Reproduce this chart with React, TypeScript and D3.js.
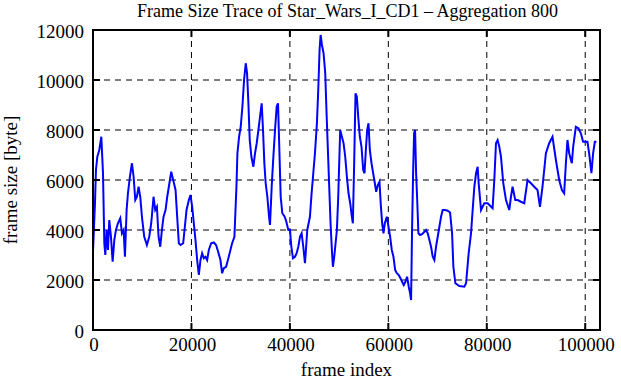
import React from "react";
import * as d3 from "d3";

const frames: number[] = [
  0, 400, 600, 880, 1280, 1690, 2030, 2300, 2500, 2770, 3040, 3310, 3650, 3990, 4330, 4660, 5070, 5540, 5880, 6220,
  6490, 6830, 7100, 7500, 7910, 8250, 8590, 8920, 9260, 9600, 9940, 10410, 10950, 11420, 11830, 12300, 12640, 12980, 13320, 13660,
  14000, 14330, 14740, 15080, 15410, 15890, 16290, 16770, 17100, 17440, 17780, 18320, 18660, 19000, 19470, 19810, 20150, 20480, 20820, 21160,
  21500, 21840, 22170, 22510, 22850, 23190, 23530, 24000, 24540, 25010, 25420, 25890, 26230, 26570, 27040, 27580, 28260, 28730, 28950, 29140,
  29340, 29680, 30010, 30350, 30690, 31030, 31300, 31570, 31840, 32180, 32580, 32920, 33260, 33600, 33930, 34270, 34540, 34810, 35080, 35420,
  35760, 35960, 36300, 36640, 36980, 37310, 37590, 37860, 38130, 38460, 38940, 39280, 39680, 40020, 40290, 40630, 41030, 41370, 41710, 42050,
  42380, 42720, 43060, 43260, 43530, 44070, 44410, 44750, 45090, 45490, 45760, 46030, 46240, 46510, 46840, 47180, 47450, 47720, 47990, 48260,
  48530, 48740, 49010, 49280, 49550, 49820, 50020, 50220, 50560, 50900, 51240, 51580, 51910, 52250, 52590, 52790, 53060, 53330, 53600, 53880,
  54210, 54550, 54890, 55160, 55430, 55700, 55970, 56240, 56580, 56920, 57260, 57530, 57860, 58200, 58470, 58740, 59010, 59280, 59690, 60030,
  60360, 60700, 61040, 61380, 61720, 62120, 62460, 62800, 63130, 63470, 63810, 64150, 64420, 64620, 64820, 65030, 65230, 65430, 65640, 65840,
  66110, 66450, 66850, 67330, 67660, 68000, 68340, 68680, 69020, 69350, 69690, 70030, 70370, 70710, 71040, 71520, 72060, 72540, 72950, 73210,
  73620, 74430, 75440, 75790, 76320, 76800, 77130, 77470, 77820, 78140, 78350, 78830, 79500, 80170, 81180, 81530, 81870, 82200, 82540, 82880,
  83350, 83900, 84570, 84910, 85240, 85780, 86260, 86940, 87610, 88280, 88970, 89640, 90310, 90800, 91320, 92010, 92680, 93350, 94040, 94710,
  95260, 95720, 96070, 96390, 96740, 97280, 97550, 98090, 98620, 99110, 99570, 100450, 100790, 101260, 101600, 101950, 102270,
];

const sizes: number[] = [
  3130, 5070, 6400, 6930, 7200, 7730, 6270, 3470, 3000, 4000, 3200, 4400, 3730, 2730, 3600, 4000, 4270, 4470, 3870, 4000,
  2930, 4800, 5470, 6130, 6670, 6130, 5200, 5330, 5730, 5330, 4530, 3730, 3400, 3730, 4270, 5330, 4800, 4930, 3730, 3330,
  4000, 4530, 4800, 5330, 5730, 6330, 6000, 5600, 4530, 3470, 3400, 3470, 4130, 4800, 5200, 5400, 4930, 4270, 3600, 2800,
  2200, 2800, 3070, 2870, 2930, 2800, 3200, 3470, 3500, 3400, 3130, 2800, 2270, 2470, 2530, 2930, 3470, 3730, 4800, 5730,
  7070, 7730, 8130, 8930, 10000, 10670, 10270, 9070, 7600, 6930, 6530, 7070, 7470, 8000, 8530, 9070, 8000, 6670, 5870, 5330,
  4530, 4200, 5730, 6930, 8000, 8930, 9070, 7200, 5330, 4670, 4530, 4330, 4000, 4000, 3330, 2870, 2930, 3070, 3330, 3730,
  3870, 3330, 2670, 3200, 4000, 4530, 5470, 6270, 7070, 8270, 9600, 11200, 11800, 11400, 11070, 10270, 8670, 7200, 5730, 4270,
  3200, 2530, 2930, 3470, 4000, 5330, 6670, 8000, 7730, 7470, 6930, 6130, 5470, 5070, 4530, 4270, 6670, 9470, 9330, 8530,
  7730, 7330, 6400, 6270, 7200, 8000, 8270, 7200, 6670, 6270, 5870, 5530, 5800, 5930, 5000, 4270, 3870, 4270, 4530, 4130,
  3730, 3200, 2930, 2400, 2270, 2200, 2070, 1930, 1800, 1930, 2130, 1730, 1470, 1200, 4000, 6270, 7870, 8000, 6270, 5330,
  3870, 3800, 3830, 3930, 4000, 3870, 3600, 3330, 2930, 2800, 3330, 3730, 4130, 4530, 4800, 4800, 4770, 4700, 3870, 2530,
  1870, 1760, 1730, 1870, 3070, 3870, 4800, 5730, 6270, 6530, 5870, 4800, 5070, 5070, 4870, 6000, 7470, 7600, 7330, 6930,
  5870, 5200, 4800, 5330, 5730, 5200, 5200, 5130, 5070, 6000, 5870, 5730, 5600, 4930, 5730, 7070, 7470, 7730, 6800, 6000,
  5600, 5470, 6670, 7600, 7070, 6670, 7330, 8130, 8070, 7870, 7530, 7530, 7070, 6270, 7070, 7530, 7530,
];

const xTicks: number[] = [0, 20000, 40000, 60000, 80000, 100000];
const yTicks: number[] = [0, 2000, 4000, 6000, 8000, 10000, 12000];

const titleText = "Frame Size Trace of Star_Wars_I_CD1 \u2013 Aggregation 800";
const xLabel = "frame index";
const yLabel = "frame size [byte]";

export default function App() {
  const W = 621;
  const H = 380;
  const left = 93;
  const right = 600;
  const top = 30;
  const bottom = 330;

  const x = d3.scaleLinear().domain([0, 103000]).range([left, right]);
  const y = d3.scaleLinear().domain([0, 12000]).range([bottom, top]);

  const points: [number, number][] = frames.map((f, i) => [f, sizes[i]]);
  const line = d3
    .line<[number, number]>()
    .x((d) => x(d[0]))
    .y((d) => y(d[1]));

  const font = "'Liberation Serif', 'Times New Roman', serif";
  const tickLen = 7;

  return (
    <svg
      width={W}
      height={H}
      style={{ position: "absolute", left: 0, top: 0, background: "#fff" }}
      fontFamily={font}
    >
      <rect x={0} y={0} width={W} height={H} fill="#fff" />
      {/* grid */}
      {xTicks
        .filter((t) => t > 0)
        .map((t) => (
          <line
            key={"gx" + t}
            x1={x(t)}
            x2={x(t)}
            y1={top}
            y2={bottom}
            stroke="#000"
            strokeWidth={1}
            strokeDasharray="6,5"
          />
        ))}
      {yTicks
        .filter((t) => t > 0 && t < 12000)
        .map((t) => (
          <line
            key={"gy" + t}
            x1={left}
            x2={right}
            y1={y(t)}
            y2={y(t)}
            stroke="#000"
            strokeWidth={1}
            strokeDasharray="6,5"
          />
        ))}
      {/* data */}
      <path d={line(points) || ""} fill="none" stroke="#0000ff" strokeWidth={2} strokeLinejoin="miter" />
      {/* ticks */}
      {xTicks.map((t) => (
        <g key={"tx" + t}>
          <line x1={x(t)} x2={x(t)} y1={bottom} y2={bottom - tickLen} stroke="#000" strokeWidth={2} />
          <line x1={x(t)} x2={x(t)} y1={top} y2={top + tickLen} stroke="#000" strokeWidth={2} />
          <text x={x(t) + 1} y={351} textAnchor="middle" fontSize={19} fill="#000">
            {t}
          </text>
        </g>
      ))}
      {yTicks.map((t) => (
        <g key={"ty" + t}>
          <line x1={left} x2={left + tickLen} y1={y(t)} y2={y(t)} stroke="#000" strokeWidth={2} />
          <line x1={right} x2={right - tickLen} y1={y(t)} y2={y(t)} stroke="#000" strokeWidth={2} />
          <text x={84} y={y(t) + 8} textAnchor="end" fontSize={19} fill="#000">
            {t}
          </text>
        </g>
      ))}
      {/* frame */}
      <rect x={left} y={top} width={right - left} height={bottom - top} fill="none" stroke="#000" strokeWidth={2} />
      {/* labels */}
      <text x={(left + right) / 2 + 1} y={17} textAnchor="middle" fontSize={18} fill="#000">
        {titleText}
      </text>
      <text x={(left + right) / 2} y={376} textAnchor="middle" fontSize={19} fill="#000">
        {xLabel}
      </text>
      <text
        transform={`translate(17, ${(top + bottom) / 2}) rotate(-90)`}
        textAnchor="middle"
        fontSize={19}
        fill="#000"
      >
        {yLabel}
      </text>
    </svg>
  );
}
